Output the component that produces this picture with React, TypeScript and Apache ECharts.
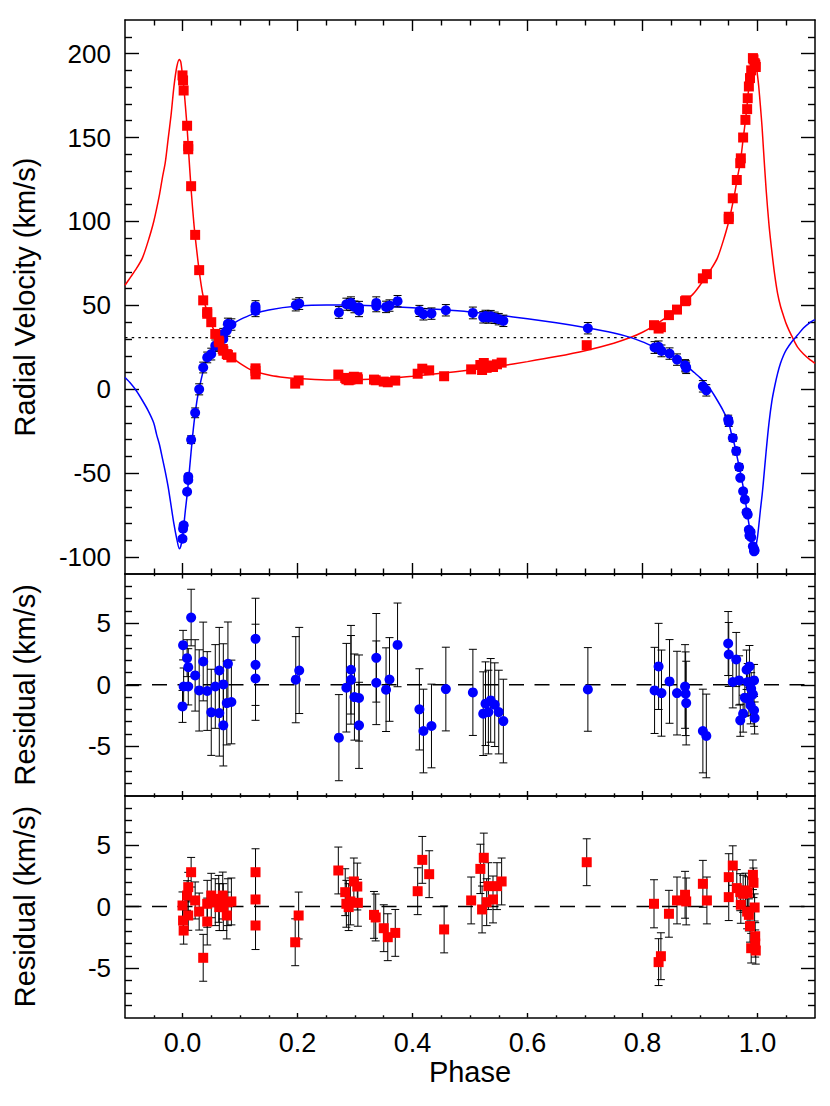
import React, { useEffect, useRef } from 'react';
import * as echarts from 'echarts';

const FONT = '"Liberation Sans", Helvetica, Arial, sans-serif';

// ---- tick positions / labels ----
const xMajorTicks = [0, 0.2, 0.4, 0.6, 0.8, 1.0];
const xMinorTicks = [-0.05, 0.05, 0.1, 0.15, 0.25, 0.3, 0.35, 0.45, 0.5, 0.55, 0.65, 0.7, 0.75, 0.85, 0.9, 0.95, 1.05];
const rvMajorTicks = [-100, -50, 0, 50, 100, 150, 200];
const rvMinorTicks = [-90, -80, -70, -60, -40, -30, -20, -10, 10, 20, 30, 40, 60, 70, 80, 90, 110, 120, 130, 140, 160, 170, 180, 190, 210];
const resMajorTicks = [-5, 0, 5];
const resMinorTicks = [-8, -7, -6, -4, -3, -2, -1, 1, 2, 3, 4, 6, 7, 8];

const gammaVelocity = 30.8;

// ---- blue component (circles) ----
const bluePhase = [
  0.000, 0.001, 0.002, 0.008, 0.010, 0.010, 0.015, 0.022, 0.029, 0.036,
  0.043, 0.050, 0.057, 0.064, 0.064, 0.071, 0.071, 0.077, 0.079, 0.085,
  0.127, 0.127, 0.127, 0.197, 0.203,
  0.272, 0.285, 0.293, 0.293, 0.299, 0.307, 0.307,
  0.337, 0.337, 0.354, 0.360, 0.374,
  0.412, 0.419, 0.433, 0.458,
  0.505, 0.523, 0.527, 0.532, 0.536, 0.543, 0.550, 0.558,
  0.705,
  0.821, 0.828, 0.833, 0.847, 0.860, 0.874, 0.875, 0.876,
  0.905, 0.911,
  0.949, 0.950, 0.957, 0.963, 0.968, 0.970, 0.975, 0.978, 0.981, 0.983,
  0.985, 0.986, 0.988, 0.989, 0.992, 0.994, 0.994, 0.995,
];
const blueRV = [
  -89, -83, -81, -61, -54, -52, -30, -14, 0, 13,
  19, 21, 26, 29.5, 26.5, 33, 30, 35, 39, 38.6,
  49.5, 48, 46.7, 50.2, 51.1,
  45.8, 50.7, 51.5, 50.5, 49.1, 48.9, 46.8,
  51.5, 49.6, 49.1, 49.9, 52.5,
  46.7, 44.7, 45.1, 47.1,
  45.5, 42.9, 43.7, 42.8, 43.6, 42.6, 41.8, 40.8,
  36.4,
  24.9, 25.3, 22.9, 21.3, 17.7, 14.3, 13.7, 12.8,
  1.8, -0.6,
  -18, -19.5, -29, -36.8, -46.3, -52.7, -60.7, -65.6, -73.2, -74.6,
  -83.7, -87.1, -85, -88.1, -93.5, -95.1, -96.5, -96,
];
const blueResidual = [
  -1.76, 3.22, -0.14, 2.16, 1.43, -0.14, 5.46, 0.76, -0.46, 1.89,
  -0.51, -2.24, -0.14, 1.16, -2.3, 0.03, -3.3, -1.49, 1.7, -1.4,
  3.73, 1.62, 0.51, 0.41, 1.16,
  -4.3, -0.24, 1.22, 0.4, -1.0, -1.08, -3.3,
  2.19, 0.16, -0.4, 0.43, 3.24,
  -2.0, -3.76, -3.35, -0.35,
  -0.62, -2.35, -1.54, -2.22, -1.27, -1.62, -2.22, -2.95,
  -0.38,
  -0.46, 1.49, -0.68, 0.27, -0.68, -0.14, -0.73, -1.49,
  -3.76, -4.16,
  3.35, 2.46, 0.22, 2.05, 0.35, -2.89, -2.35, -1.05, 1.22, 0.22,
  -1.22, 1.49, -1.68, -0.32, -0.78, 0.35, -2.08, -2.7,
];
const blueError = [
  1.3, 1.2, 1.5, 1.5, 1.5, 1.5, 2.3, 2.9, 3.3, 3.2,
  3.2, 3.5, 3.4, 3.5, 3.5, 3.3, 3.3, 3.4, 3.4, 3.4,
  3.3, 3.3, 3.4, 3.5, 3.5,
  3.5, 3.6, 3.6, 3.6, 3.5, 3.5, 3.5,
  3.6, 3.4, 3.4, 3.4, 3.4,
  3.3, 3.4, 3.4, 3.4,
  3.5, 3.4, 3.4, 3.4, 3.4, 3.4, 3.4, 3.4,
  3.4,
  3.5, 3.5, 3.5, 3.4, 3.4, 3.4, 3.4, 3.4,
  3.4, 3.4,
  2.6, 2.6, 2.1, 2.2, 2.0, 1.3, 1.5, 1.5, 1.6, 1.5,
  1.3, 1.7, 1.5, 1.3, 1.3, 1.3, 1.3, 1.3,
];

// ---- red component (squares) ----
const redPhase = [
  0.000, 0.001, 0.002, 0.008, 0.010, 0.010, 0.015, 0.022, 0.029, 0.036,
  0.043, 0.043, 0.050, 0.057, 0.063, 0.064, 0.070, 0.071, 0.077, 0.079, 0.085,
  0.127, 0.127, 0.127, 0.196, 0.202,
  0.271, 0.283, 0.285, 0.289, 0.292, 0.298, 0.304, 0.305,
  0.333, 0.336, 0.350, 0.357, 0.370,
  0.409, 0.417, 0.429, 0.455,
  0.502, 0.518, 0.521, 0.524, 0.529, 0.532, 0.540, 0.547, 0.555,
  0.703,
  0.820, 0.828, 0.832, 0.846, 0.860, 0.874, 0.876,
  0.905, 0.912,
  0.950, 0.950, 0.957, 0.964, 0.970, 0.971, 0.975, 0.979, 0.982, 0.983,
  0.985, 0.987, 0.989, 0.992, 0.993, 0.995, 0.996, 0.997, 0.996,
];
const redRV = [
  187, 184, 178, 157, 145, 143, 121, 92, 71, 53,
  46, 45, 40, 33, 29, 28, 24, 23, 21, 20.5, 19,
  12.5, 11, 8.9, 3.4, 5.3,
  8.8, 6.8, 6.0, 5.4, 5.8, 7.5, 7.2, 6.0,
  5.8, 5.4, 4.6, 4.2, 5.2,
  9.3, 12.3, 11.3, 7.8,
  11.9, 14.5, 11.5, 15.7, 12.8, 14.2, 13.3, 14.9, 15.9,
  26.3,
  38.2, 36.2, 37.0, 44.2, 47.5, 52.5, 53.0,
  66.1, 68.6,
  101.4, 102.8, 113.8, 124.7, 134.7, 137.6, 150, 160.5, 166.9, 173.4,
  180.4, 185.4, 190, 197.3, 196.5, 194.3, 193, 192, 193.5,
];
const redResidual = [
  0.08, -1.14, -1.95, 0.89, 1.57, -0.73, 2.78, 0.49, -0.41, -4.16,
  -1.22, 0.22, 0.89, 0.35, 0.62, -0.05, 0.89, -0.05, -0.73, 0.35, 0.41,
  2.78, 0.57, -1.54, -2.9, -0.73,
  2.92, 1.16, 0.22, -0.05, 0.41, 2.03, 1.62, 0.3,
  -0.68, -0.89, -1.76, -2.49, -2.14,
  1.24, 3.78, 2.62, -1.86,
  0.49, 3.05, -0.24, 3.95, 0.35, 1.65, 0.57, 1.65, 2.03,
  3.59,
  0.22, -4.51, -4.03, -0.59, 0.49, 0.95, 0.41,
  1.84, 0.49,
  2.38, 0.76, 3.32, 1.49, 1.16, 0.14, 1.03, 1.3, -0.41, 1.11,
  -0.68, -1.59, -3.38, 2.57, 1.92, -0.08, -2.41, -3.57, -3.0,
];
const redError = [
  1.1, 1.1, 1.1, 1.2, 1.2, 1.2, 1.2, 1.5, 1.5, 1.9,
  1.9, 1.9, 1.8, 1.9, 1.9, 1.9, 1.9, 1.9, 1.9, 1.9, 1.9,
  1.9, 1.9, 1.95, 1.9, 1.9,
  1.9, 1.9, 1.9, 1.9, 1.9, 1.9, 1.9, 1.9,
  1.9, 1.9, 1.9, 1.9, 1.9,
  1.9, 1.9, 1.9, 1.9,
  1.9, 2.0, 1.9, 2.0, 1.9, 1.9, 1.9, 1.9, 1.9,
  1.9,
  1.95, 1.9, 1.9, 1.9, 1.9, 1.9, 1.9,
  1.9, 1.9,
  1.9, 1.9, 1.6, 1.5, 1.5, 1.5, 1.5, 1.4, 1.4, 1.3,
  1.3, 1.3, 1.2, 1.2, 1.2, 1.1, 1.1, 1.1, 1.1,
];

// ---- orbit model curves ----
const redModel: [number, number][] = [
  [-0.100, 62], [-0.090, 67], [-0.080, 72], [-0.070, 78], [-0.060, 88], [-0.050, 100],
  [-0.040, 116], [-0.035, 126], [-0.030, 135], [-0.025, 149], [-0.020, 163], [-0.015, 180],
  [-0.010, 192], [-0.0055, 196.5], [-0.003, 195], [0.000, 187], [0.002, 181], [0.005, 169],
  [0.008, 156], [0.010, 145], [0.015, 119], [0.020, 98], [0.025, 82], [0.030, 68], [0.035, 57],
  [0.040, 49.5], [0.045, 44], [0.050, 39], [0.055, 35], [0.060, 31.5], [0.065, 28], [0.070, 25],
  [0.080, 21], [0.090, 18], [0.100, 15.5], [0.120, 11.5], [0.150, 8.5], [0.170, 7.4], [0.200, 6.4],
  [0.250, 5.6], [0.300, 5.7], [0.350, 6.4], [0.400, 7.8], [0.450, 9.6], [0.500, 11.5], [0.550, 13.8],
  [0.600, 16.5], [0.650, 19.5], [0.700, 23], [0.750, 27.5], [0.780, 31], [0.800, 34], [0.820, 38],
  [0.850, 45], [0.870, 50.5], [0.880, 54], [0.890, 57.5], [0.900, 62], [0.910, 67], [0.920, 72],
  [0.930, 78], [0.940, 88], [0.950, 100], [0.960, 116], [0.965, 126], [0.970, 135], [0.975, 149],
  [0.980, 163], [0.985, 180], [0.990, 192], [0.9945, 196.5], [0.997, 195], [1.000, 187], [1.002, 181],
  [1.005, 169], [1.008, 156], [1.010, 145], [1.015, 119], [1.020, 98], [1.025, 82], [1.030, 68],
  [1.035, 57], [1.040, 49.5], [1.045, 44], [1.050, 39], [1.055, 35], [1.060, 31.5], [1.065, 28],
  [1.070, 25], [1.080, 21], [1.090, 18], [1.100, 15.5],
];
const blueModel: [number, number][] = [
  [-0.100, 7], [-0.090, 3.5], [-0.080, -1], [-0.070, -6.5], [-0.060, -12.5], [-0.050, -20],
  [-0.045, -27], [-0.040, -33], [-0.035, -41], [-0.030, -49], [-0.025, -58], [-0.020, -69],
  [-0.015, -80], [-0.010, -89], [-0.0055, -95], [-0.003, -93.5], [0.000, -88], [0.002, -82],
  [0.005, -72], [0.008, -63], [0.010, -56], [0.015, -37], [0.020, -20], [0.025, -7], [0.030, 2],
  [0.035, 9.5], [0.040, 15.5], [0.045, 20], [0.050, 23.5], [0.060, 28.5], [0.070, 32.5], [0.080, 36.5],
  [0.090, 39.5], [0.100, 41.5], [0.120, 44.5], [0.150, 47.3], [0.200, 49.6], [0.250, 50.3], [0.300, 50.2],
  [0.350, 49.5], [0.400, 48.6], [0.450, 47.5], [0.500, 46.1], [0.550, 44.2], [0.600, 42], [0.650, 39.6],
  [0.700, 36.8], [0.750, 33.5], [0.780, 30.8], [0.800, 28.3], [0.820, 25.3], [0.840, 22.2], [0.860, 18.4],
  [0.875, 14.4], [0.890, 10], [0.900, 7], [0.910, 3.5], [0.920, -1], [0.930, -6.5], [0.940, -12.5],
  [0.950, -20], [0.955, -27], [0.960, -33], [0.965, -41], [0.970, -49], [0.975, -58], [0.980, -69],
  [0.985, -80], [0.990, -89], [0.9945, -95], [0.997, -93.5], [1.000, -88], [1.002, -82], [1.005, -72],
  [1.008, -63], [1.010, -56], [1.015, -37], [1.020, -20], [1.025, -7], [1.030, 2], [1.035, 9.5],
  [1.040, 15.5], [1.045, 20], [1.050, 23.5], [1.060, 28.5], [1.070, 32.5], [1.080, 36.5], [1.090, 39.5],
  [1.100, 41.5],
];

const BLUE = '#0000ff';
const RED = '#ff0000';
const BLACK = '#000000';

function zip3(a: number[], b: number[], c: number[]) {
  return a.map((v, i) => [v, b[i], c[i]]);
}

function xAxesFor(gi: number, labels: boolean, majorLen: number, minorLen: number) {
  const base = {
    type: 'value', gridIndex: gi, min: -0.1, max: 1.1,
    splitLine: { show: false }, axisPointer: { show: false }, silent: true,
  };
  const line = { show: true, onZero: false, lineStyle: { color: BLACK, width: 1.5 } };
  const noLine = { show: false, onZero: false };
  const major = { show: true, inside: true, length: majorLen, customValues: xMajorTicks, lineStyle: { color: BLACK, width: 1.4 } };
  const minor = { show: true, inside: true, length: minorLen, customValues: xMinorTicks, lineStyle: { color: BLACK, width: 1.4 } };
  return [
    {
      ...base, position: 'bottom', axisLine: line, axisTick: major,
      axisLabel: labels
        ? { show: true, customValues: xMajorTicks, formatter: (v: number) => v.toFixed(1), fontSize: 27, color: BLACK, fontFamily: FONT, margin: 12 }
        : { show: false },
      name: labels ? 'Phase' : '', nameLocation: 'middle', nameGap: 40,
      nameTextStyle: { fontSize: 29, color: BLACK, fontFamily: FONT },
    },
    { ...base, position: 'top', axisLine: line, axisTick: major, axisLabel: { show: false } },
    { ...base, position: 'bottom', axisLine: noLine, axisTick: minor, axisLabel: { show: false } },
    { ...base, position: 'top', axisLine: noLine, axisTick: minor, axisLabel: { show: false } },
  ];
}

function yAxesFor(gi: number, min: number, max: number, majors: number[], minors: number[], name: string) {
  const base = {
    type: 'value', gridIndex: gi, min, max,
    splitLine: { show: false }, axisPointer: { show: false }, silent: true,
  };
  const line = { show: true, onZero: false, lineStyle: { color: BLACK, width: 1.5 } };
  const noLine = { show: false, onZero: false };
  const major = { show: true, inside: true, length: 14, customValues: majors, lineStyle: { color: BLACK, width: 1.4 } };
  const minor = { show: true, inside: true, length: 7, customValues: minors, lineStyle: { color: BLACK, width: 1.4 } };
  return [
    {
      ...base, position: 'left', axisLine: line, axisTick: major,
      axisLabel: { show: true, customValues: majors, fontSize: 26, color: BLACK, fontFamily: FONT, margin: 14 },
      name, nameLocation: 'middle', nameGap: 86, nameRotate: 90,
      nameTextStyle: { fontSize: 29, color: BLACK, fontFamily: FONT },
    },
    { ...base, position: 'right', axisLine: line, axisTick: major, axisLabel: { show: false } },
    { ...base, position: 'left', axisLine: noLine, axisTick: minor, axisLabel: { show: false } },
    { ...base, position: 'right', axisLine: noLine, axisTick: minor, axisLabel: { show: false } },
  ];
}

function errorBars(gi: number, data: number[][], z: number) {
  return {
    type: 'custom', xAxisIndex: gi * 4, yAxisIndex: gi * 4, data, z, silent: true,
    encode: { x: 0, y: 1 },
    renderItem: (_params: any, api: any) => {
      const x = api.value(0);
      const y = api.value(1);
      const e = api.value(2);
      const p1 = api.coord([x, y + e]);
      const p2 = api.coord([x, y - e]);
      const w = 4;
      const style = { stroke: BLACK, lineWidth: 1 };
      return {
        type: 'group',
        children: [
          { type: 'line', shape: { x1: p1[0], y1: p1[1], x2: p2[0], y2: p2[1] }, style },
          { type: 'line', shape: { x1: p1[0] - w, y1: p1[1], x2: p1[0] + w, y2: p1[1] }, style },
          { type: 'line', shape: { x1: p2[0] - w, y1: p2[1], x2: p2[0] + w, y2: p2[1] }, style },
        ],
      };
    },
  };
}

function points(gi: number, data: number[][], color: string, symbol: string, size: number, z: number) {
  return {
    type: 'scatter', xAxisIndex: gi * 4, yAxisIndex: gi * 4, z, silent: true,
    data: data.map((d) => [d[0], d[1]]),
    symbol, symbolSize: size, itemStyle: { color, opacity: 1 },
  };
}

function refLine(gi: number, value: number, type: number[], width: number, dashOffset: number) {
  return {
    type: 'line', xAxisIndex: gi * 4, yAxisIndex: gi * 4, z: 2, silent: true,
    data: [[-0.1, value], [1.1, value]], symbol: 'none', showSymbol: false,
    lineStyle: { color: BLACK, width, type, dashOffset },
  };
}

function modelLine(data: [number, number][], color: string) {
  return {
    type: 'line', xAxisIndex: 0, yAxisIndex: 0, z: 2, silent: true,
    data, symbol: 'none', showSymbol: false, smooth: 0.25,
    lineStyle: { color, width: 1.5 },
  };
}

export default function App() {
  const ref = useRef<HTMLDivElement>(null);

  useEffect(() => {
    document.body.style.margin = '0';
    if (!ref.current) return;
    const chart = echarts.init(ref.current, null, { renderer: 'svg' });

    const blueRVData = zip3(bluePhase, blueRV, blueError);
    const blueResData = zip3(bluePhase, blueResidual, blueError);
    const redRVData = zip3(redPhase, redRV, redError);
    const redResData = zip3(redPhase, redResidual, redError);

    const option: any = {
      animation: false,
      backgroundColor: '#ffffff',
      textStyle: { fontFamily: FONT },
      grid: [
        { left: 125, right: 15, top: 20, height: 554, outerBoundsMode: 'none' },
        { left: 125, right: 15, top: 574, height: 221.5, outerBoundsMode: 'none' },
        { left: 125, right: 15, top: 795.5, height: 222, outerBoundsMode: 'none' },
      ],
      xAxis: [
        ...xAxesFor(0, false, 11, 5.5),
        ...xAxesFor(1, false, 4.5, 2.2),
        ...xAxesFor(2, true, 4.5, 2.2),
      ],
      yAxis: [
        ...yAxesFor(0, -110, 220, rvMajorTicks, rvMinorTicks, 'Radial Velocity (km/s)'),
        ...yAxesFor(1, -9, 9, resMajorTicks, resMinorTicks, 'Residual (km/s)'),
        ...yAxesFor(2, -9, 9, resMajorTicks, resMinorTicks, 'Residual (km/s)'),
      ],
      series: [
        refLine(0, gammaVelocity, [2.5, 4.2], 1.3, 0),
        modelLine(redModel, RED),
        modelLine(blueModel, BLUE),
        errorBars(0, blueRVData, 3),
        points(0, blueRVData, BLUE, 'circle', 10, 4),
        errorBars(0, redRVData, 5),
        points(0, redRVData, RED, 'rect', 10, 6),

        refLine(1, 0, [15, 10.5], 1.6, 24.3),
        errorBars(1, blueResData, 3),
        points(1, blueResData, BLUE, 'circle', 10, 4),

        refLine(2, 0, [15, 10.5], 1.6, 24.3),
        errorBars(2, redResData, 3),
        points(2, redResData, RED, 'rect', 10, 4),
      ],
    };
    chart.setOption(option);
    return () => chart.dispose();
  }, []);

  return (
    <div
      ref={ref}
      style={{ position: 'absolute', left: 0, top: 0, width: 830, height: 1106, background: '#fff' }}
    />
  );
}
